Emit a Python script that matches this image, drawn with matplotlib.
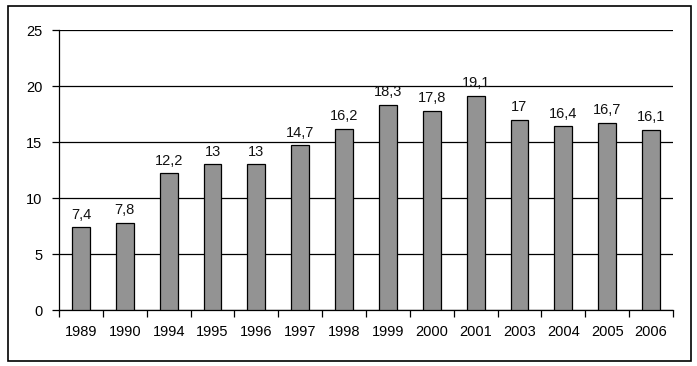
import matplotlib.pyplot as plt
from matplotlib.patches import Rectangle

years = ['1989', '1990', '1994', '1995', '1996', '1997', '1998', '1999',
         '2000', '2001', '2003', '2004', '2005', '2006']
values = [7.4, 7.8, 12.2, 13, 13, 14.7, 16.2, 18.3, 17.8, 19.1, 17, 16.4, 16.7, 16.1]
yticks = [0, 5, 10, 15, 20, 25]

plt.rcParams['font.family'] = ['Liberation Sans', 'DejaVu Sans']

W, H = 697, 366
fig = plt.figure(figsize=(W / 100, H / 100), dpi=100)
ax = fig.add_axes([59 / W, 1 - 310 / H, (673 - 59) / W, (310 - 30) / H])

x = list(range(len(years)))
ax.bar(x, values, width=0.41, color='#939393', edgecolor='black', linewidth=0.9, zorder=3)

for xi, v in zip(x, values):
    label = ('%g' % v).replace('.', ',')
    ax.text(xi, v + 0.5, label, ha='center', va='bottom', fontsize=10.5, color='#111111')

ax.set_xlim(-0.5, len(years) - 0.5)
ax.set_ylim(0, 25)
ax.set_yticks(yticks)
ax.set_yticklabels([str(t) for t in yticks])
ax.yaxis.grid(True, color='black', linewidth=0.9, zorder=0)

# category labels centred, ticks at the boundaries
ax.set_xticks(x)
ax.set_xticklabels(years)
ax.set_xticks([i - 0.5 for i in range(len(years) + 1)], minor=True)
ax.tick_params(axis='x', which='major', length=0, pad=11, labelsize=10.5)
ax.tick_params(axis='x', which='minor', length=5, width=0.9, direction='out')
ax.tick_params(axis='y', length=5, width=0.9, pad=7, labelsize=10.5)

for s in ['top', 'right']:
    ax.spines[s].set_visible(False)
for s in ['left', 'bottom']:
    ax.spines[s].set_linewidth(0.9)

fig.patches.append(Rectangle((8 / W, 1 - 361 / H), (691 - 8) / W, (361 - 6) / H,
                             transform=fig.transFigure, fill=False,
                             edgecolor='black', linewidth=1.2))

fig.savefig('out.png', dpi=100)
